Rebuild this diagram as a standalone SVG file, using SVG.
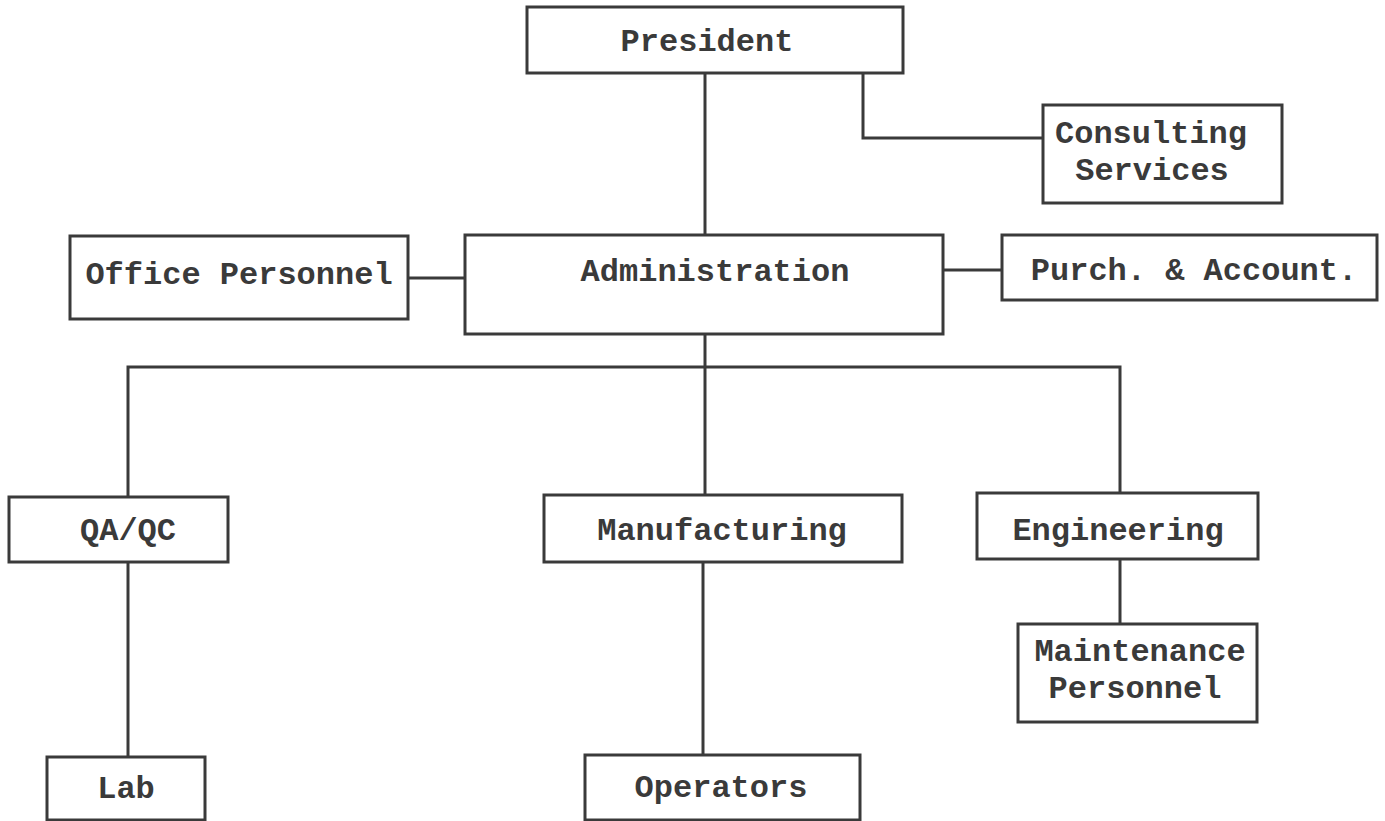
<svg xmlns="http://www.w3.org/2000/svg" width="1385" height="821" viewBox="0 0 1385 821">
<style>
.box{fill:#fff;stroke:#3a3a3a;stroke-width:3}
.ln{fill:none;stroke:#3a3a3a;stroke-width:3}
text{font-family:"Liberation Mono","Courier New",monospace;font-weight:bold;font-size:32px;fill:#3a3a3a;text-anchor:middle}
</style>
<rect width="1385" height="821" fill="#fff"/>
<g id="connectors">
<line class="ln" x1="705" y1="73" x2="705" y2="235"/>
<polyline class="ln" points="863,73 863,138 1043,138"/>
<line class="ln" x1="408" y1="278" x2="465" y2="278"/>
<line class="ln" x1="943" y1="270" x2="1002" y2="270"/>
<line class="ln" x1="705" y1="334" x2="705" y2="495"/>
<polyline class="ln" points="128,497 128,367 1120,367 1120,493"/>
<line class="ln" x1="128" y1="562" x2="128" y2="757"/>
<line class="ln" x1="703" y1="562" x2="703" y2="755"/>
<line class="ln" x1="1120" y1="559" x2="1120" y2="624"/>
</g>
<g id="president"><rect class="box" x="527" y="7" width="376" height="66"/><text x="707" y="51">President</text></g>
<g id="consulting"><rect class="box" x="1043" y="105" width="239" height="98"/><text x="1151" y="143">Consulting</text><text x="1152" y="180">Services</text></g>
<g id="office"><rect class="box" x="70" y="236" width="338" height="83"/><text x="239" y="284">Office Personnel</text></g>
<g id="admin"><rect class="box" x="465" y="235" width="478" height="99"/><text x="715" y="281">Administration</text></g>
<g id="purch"><rect class="box" x="1002" y="235" width="375" height="65"/><text x="1194" y="280">Purch. &amp; Account.</text></g>
<g id="qaqc"><rect class="box" x="9" y="497" width="219" height="65"/><text x="128" y="540">QA/QC</text></g>
<g id="manufacturing"><rect class="box" x="544" y="495" width="358" height="67"/><text x="722" y="540">Manufacturing</text></g>
<g id="engineering"><rect class="box" x="977" y="493" width="281" height="66"/><text x="1118" y="540">Engineering</text></g>
<g id="maintenance"><rect class="box" x="1018" y="624" width="239" height="98"/><text x="1140" y="661">Maintenance</text><text x="1135" y="698">Personnel</text></g>
<g id="lab"><rect class="box" x="47" y="757" width="158" height="63"/><text x="126" y="798">Lab</text></g>
<g id="operators"><rect class="box" x="585" y="755" width="275" height="65"/><text x="721" y="797">Operators</text></g>
</svg>
